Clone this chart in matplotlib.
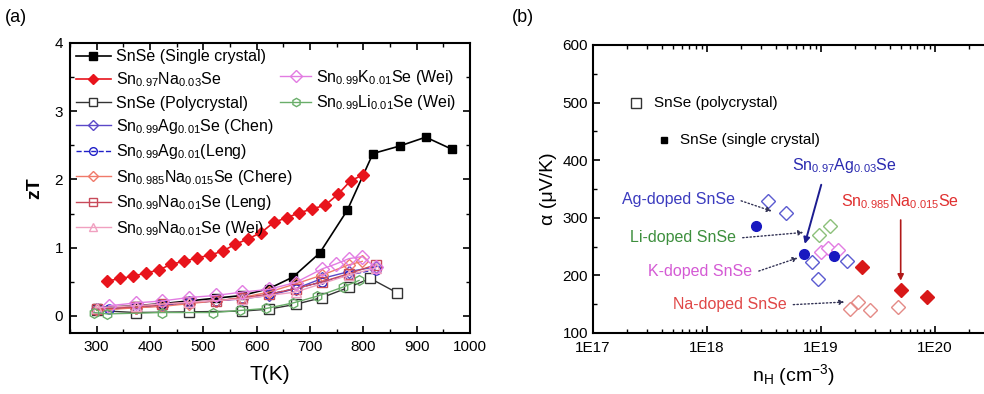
import matplotlib
matplotlib.use("Agg")
import matplotlib.pyplot as plt
import numpy as np
from matplotlib.ticker import MultipleLocator, LogLocator, FuncFormatter, NullFormatter

plt.rcParams['font.family'] = ['Liberation Sans', 'DejaVu Sans']
plt.rcParams['mathtext.default'] = 'regular'

# ---- panel (a): zT vs T ----
T_sc = [300, 373, 423, 473, 523, 573, 623, 668, 718, 770, 818, 868, 917, 967]
zT_sc = [0.12, 0.15, 0.18, 0.22, 0.26, 0.30, 0.40, 0.57, 0.92, 1.55, 2.38, 2.49, 2.62, 2.44]

T_na03 = [320, 344, 368, 392, 416, 440, 464, 488, 512, 536, 560, 584, 608, 632, 656, 680, 704, 728, 752, 776, 800]
zT_na03 = [0.51, 0.55, 0.58, 0.63, 0.67, 0.76, 0.80, 0.85, 0.89, 0.95, 1.05, 1.13, 1.22, 1.37, 1.44, 1.51,
           1.57, 1.62, 1.78, 1.98, 2.07]

T_poly = [300, 373, 473, 573, 623, 673, 723, 773, 813, 863]
zT_poly = [0.08, 0.05, 0.06, 0.07, 0.10, 0.17, 0.27, 0.42, 0.55, 0.34]

T_ag_chen = [300, 373, 423, 473, 523, 573, 623, 673, 723, 773, 823]
zT_ag_chen = [0.10, 0.12, 0.15, 0.20, 0.22, 0.25, 0.30, 0.40, 0.55, 0.65, 0.72]

T_ag_leng = [323, 373, 423, 473, 523, 573, 623, 673, 723, 773, 823]
zT_ag_leng = [0.10, 0.13, 0.16, 0.19, 0.22, 0.26, 0.32, 0.40, 0.50, 0.60, 0.68]

T_na_chere = [300, 373, 423, 473, 523, 573, 623, 673, 723, 773, 798]
zT_na_chere = [0.08, 0.12, 0.14, 0.18, 0.22, 0.27, 0.35, 0.47, 0.60, 0.75, 0.80]

T_na_leng = [300, 373, 423, 473, 523, 573, 623, 673, 723, 773, 823]
zT_na_leng = [0.10, 0.13, 0.17, 0.20, 0.22, 0.26, 0.32, 0.40, 0.50, 0.62, 0.75]

T_na_wei = [300, 373, 473, 573, 673, 773, 823]
zT_na_wei = [0.12, 0.15, 0.20, 0.25, 0.35, 0.60, 0.70]

T_k_wei = [323, 373, 423, 473, 523, 573, 623, 673, 723, 748, 773, 798, 823]
zT_k_wei = [0.15, 0.19, 0.22, 0.27, 0.30, 0.35, 0.39, 0.49, 0.69, 0.76, 0.84, 0.87, 0.71]

T_li_wei = [295, 320, 422, 519, 568, 618, 668, 714, 761, 792]
zT_li_wei = [0.05, 0.03, 0.05, 0.05, 0.08, 0.11, 0.19, 0.29, 0.42, 0.52]

# ---- panel (b): Seebeck vs carrier concentration ----
n_poly, S_poly = [2.36e17], [499]
n_sc, S_sc = [4.2e17], [435]
n_ag_filled = [2.7e18, 7.1e18, 1.3e19]
S_ag_filled = [286, 238, 234]
n_ag_open = [3.4e18, 4.9e18, 8.3e18, 9.4e18, 1.7e19]
S_ag_open = [329, 308, 224, 193, 225]
n_li = [9.6e18, 1.2e19]
S_li = [270, 286]
n_k = [1.0e19, 1.15e19, 1.4e19]
S_k = [240, 247, 244]
n_na_filled = [2.3e19, 5.0e19, 8.5e19]
S_na_filled = [215, 175, 163]
n_na_open = [1.8e19, 2.1e19, 2.7e19, 4.7e19]
S_na_open = [141, 154, 140, 145]

fig = plt.figure(figsize=(9.84, 3.94), dpi=100)
ax1 = fig.add_axes([70 / 984, 61 / 394, 400 / 984, 290 / 394])
ax2 = fig.add_axes([593 / 984, 61 / 394, 456 / 984, 288 / 394])

c_red = '#e8141c'
c_blue = '#2020c8'
c_purple = '#5b48c8'
c_mag = '#e27ce2'
c_green = '#6aae6a'

h = []
h += ax1.plot(T_sc, zT_sc, '-s', color='k', ms=6, lw=1.2, label='SnSe (Single crystal)')
h += ax1.plot(T_na03, zT_na03, '-D', color=c_red, ms=6.5, lw=1.2, label='$Sn_{0.97}Na_{0.03}Se$')
h += ax1.plot(T_poly, zT_poly, '-s', color='#333333', mfc='white', ms=6.5, lw=1.0, label='SnSe (Polycrystal)')
h += ax1.plot(T_ag_chen, zT_ag_chen, '-D', color=c_purple, mfc='none', ms=6.5, lw=1.0,
              label='$Sn_{0.99}Ag_{0.01}Se$ (Chen)')
h += ax1.plot(T_ag_leng, zT_ag_leng, '--o', color=c_blue, mfc='none', ms=6.5, lw=1.0,
              label='$Sn_{0.99}Ag_{0.01}$(Leng)')
h += ax1.plot(T_na_chere, zT_na_chere, '-D', color='#f07a6a', mfc='none', ms=6.5, lw=1.0,
              label='$Sn_{0.985}Na_{0.015}Se$ (Chere)')
h += ax1.plot(T_na_leng, zT_na_leng, '-s', color='#c84a5a', mfc='none', ms=6.5, lw=1.0,
              label='$Sn_{0.99}Na_{0.01}Se$ (Leng)')
h += ax1.plot(T_na_wei, zT_na_wei, '-^', color='#f0a0c0', mfc='none', ms=6.5, lw=1.0,
              label='$Sn_{0.99}Na_{0.01}Se$ (Wei)')
h2 = []
h2 += ax1.plot(T_k_wei, zT_k_wei, '-D', color=c_mag, mfc='none', ms=7, lw=1.0,
               label='$Sn_{0.99}K_{0.01}Se$ (Wei)')
h2 += ax1.plot(T_li_wei, zT_li_wei, '-h', color=c_green, mfc='none', ms=7, lw=1.0,
               label='$Sn_{0.99}Li_{0.01}Se$ (Wei)')

leg1 = ax1.legend(handles=h, loc='upper left', bbox_to_anchor=(-0.01, 1.012), frameon=False,
                  fontsize=11.5, handlelength=2.2, handletextpad=0.35, labelspacing=0.4,
                  borderaxespad=0.2, markerscale=0.85)
ax1.add_artist(leg1)
ax1.legend(handles=h2, loc='upper left', bbox_to_anchor=(0.49, 0.965), frameon=False,
           fontsize=11.5, handlelength=1.9, handletextpad=0.35, labelspacing=0.42,
           markerscale=0.85)

ax1.set_xlim(250, 1000)
ax1.set_ylim(-0.25, 4)
ax1.xaxis.set_major_locator(MultipleLocator(100))
ax1.xaxis.set_minor_locator(MultipleLocator(50))
ax1.yaxis.set_major_locator(MultipleLocator(1))
ax1.yaxis.set_minor_locator(MultipleLocator(0.5))
ax1.tick_params(which='both', direction='in', top=True, right=True, labelsize=11)
ax1.tick_params(which='major', length=5, width=1.2, pad=5)
ax1.tick_params(which='minor', length=3, width=1)
for s in ax1.spines.values():
    s.set_linewidth(1.5)
ax1.set_xlabel('T(K)', fontsize=15, labelpad=8)
ax1.set_ylabel('zT', fontsize=14, fontweight='bold', labelpad=8)
fig.text(5 / 984, 1 - 18 / 394, '(a)', fontsize=13, va='center')

# panel (b)
ax2.set_xscale('log')
ax2.plot(n_poly, S_poly, 's', color='#333333', mfc='white', ms=7)
ax2.plot(n_sc, S_sc, 's', color='k', ms=5)
ax2.plot(n_ag_open, S_ag_open, 'D', color='#5b5bd0', mfc='white', ms=7)
ax2.plot(n_li, S_li, 'D', color='#8cc07a', mfc='white', ms=7)
ax2.plot(n_k, S_k, 'D', color=c_mag, mfc='white', ms=7)
ax2.plot(n_na_open, S_na_open, 'D', color='#e48a86', mfc='white', ms=7)
ax2.plot(n_ag_filled, S_ag_filled, 'o', color='#1818c0', ms=7)
ax2.plot(n_na_filled, S_na_filled, 'D', color='#d81818', ms=7)

ax2.text(3.4e17, 499, 'SnSe (polycrystal)', fontsize=11, va='center', ha='left')
ax2.text(5.8e17, 435, 'SnSe (single crystal)', fontsize=11, va='center', ha='left')
ax2.text(1.6e19, 390, '$Sn_{0.97}Ag_{0.03}Se$', fontsize=11.5, va='center', ha='center', color='#2a2ab0')
ax2.annotate('', xy=(7.1e18, 250), xytext=(1.02e19, 362),
             arrowprops=dict(arrowstyle='-|>', color='#1c1c90', lw=1.4, mutation_scale=9))
ax2.text(1.5e19, 328, '$Sn_{0.985}Na_{0.015}Se$', fontsize=11.5, va='center', ha='left', color='#e03030')
ax2.annotate('', xy=(5.0e19, 186), xytext=(5.0e19, 301),
             arrowprops=dict(arrowstyle='-|>', color='#b01818', lw=1.2, mutation_scale=9))

lab_text = ['Ag-doped SnSe', 'Li-doped SnSe', 'K-doped SnSe', 'Na-doped SnSe']
lab_color = ['#3b3bbf', '#3d8f3d', '#d45ad4', '#e04848']
lab_xy = [(1.75e18, 331), (1.8e18, 265), (2.5e18, 206), (5.0e18, 149)]
lab_tip = [(3.9e18, 310), (7.4e18, 275), (6.6e18, 232), (1.7e19, 154)]
for t, c, p, q in zip(lab_text, lab_color, lab_xy, lab_tip):
    ax2.text(p[0], p[1], t, fontsize=11.5, color=c, ha='right', va='center')
    ax2.annotate('', xy=q, xytext=(p[0] * 1.08, p[1]),
                 arrowprops=dict(arrowstyle='-|>', color='#333355', lw=1.0, ls=':',
                                 mutation_scale=7))


def fmt_e(v, p):
    e = round(np.log10(v))
    return '1E%d' % e if e <= 20 else ''


ax2.set_xlim(1e17, 1e21)
ax2.set_ylim(100, 600)
ax2.xaxis.set_major_locator(LogLocator(base=10))
ax2.xaxis.set_minor_locator(LogLocator(base=10, subs=np.arange(2, 10)))
ax2.xaxis.set_major_formatter(FuncFormatter(fmt_e))
ax2.xaxis.set_minor_formatter(NullFormatter())
ax2.yaxis.set_major_locator(MultipleLocator(100))
ax2.yaxis.set_minor_locator(MultipleLocator(50))
ax2.tick_params(which='both', direction='in', top=True, right=True, labelsize=11)
ax2.tick_params(which='major', length=5, width=1.2)
ax2.tick_params(axis='x', which='major', pad=6)
ax2.tick_params(which='minor', length=3, width=1)
for s in ax2.spines.values():
    s.set_linewidth(1.5)
ax2.set_xlabel('$n_H$ (cm$^{-3}$)', fontsize=14, labelpad=2)
ax2.xaxis.set_label_coords(0.44, -0.10)
ax2.set_ylabel('α (μV/K)', fontsize=14, labelpad=4)
fig.text(512 / 984, 1 - 18 / 394, '(b)', fontsize=13, va='center')

fig.savefig('out.png', dpi=100)
